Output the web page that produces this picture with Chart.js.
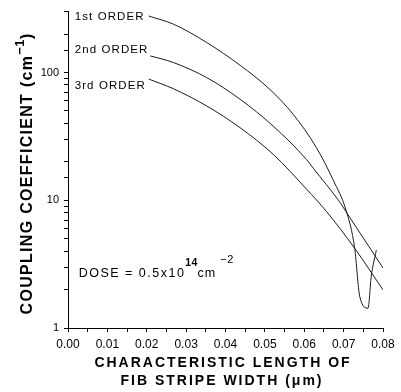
<!DOCTYPE html>
<html>
<head>
<meta charset="utf-8">
<script src="https://cdn.jsdelivr.net/npm/chart.js@4/dist/chart.umd.min.js"></script>
<style>
  html, body { margin: 0; padding: 0; background: #fff; }
  canvas { display: block; }
</style>
</head>
<body>
<canvas id="chart" width="401" height="392"></canvas>
<script>
// Coupling coefficient (cm^-1) versus characteristic length of the FIB stripe width (um)
const firstOrderX  = [0.0205, 0.0268, 0.0352, 0.0437, 0.0513, 0.0572, 0.0631, 0.0673, 0.0707, 0.0728, 0.0741, 0.0762, 0.0770, 0.0783];
const firstOrderK  = [277, 239, 172, 114, 73.6, 47.0, 25.8, 14.5, 8.2, 4.22, 1.76, 1.43, 2.52, 4.07];

const secondOrderX = [0.0209, 0.0268, 0.0352, 0.0437, 0.0521, 0.0606, 0.0623, 0.0690, 0.0710, 0.0800];
const secondOrderK = [135, 119.7, 91.4, 61.8, 38.1, 20.8, 17.8, 9.7, 7.8, 2.95];

const thirdOrderX  = [0.0205, 0.0268, 0.0352, 0.0437, 0.0521, 0.0606, 0.0656, 0.0728, 0.0800];
const thirdOrderK  = [88.9, 74.6, 54.8, 37.0, 22.9, 12.2, 8.2, 4.21, 1.99];

const seriesNames  = ['1st ORDER', '2nd ORDER', '3rd ORDER'];
const xTickLabels  = ['0.00', '0.01', '0.02', '0.03', '0.04', '0.05', '0.06', '0.07', '0.08'];
const yTickLabels  = [1, 10, 100];

const toPoints = (xs, ks) => xs.map((x, i) => ({ x: x, y: ks[i] }));

const FONT = '"Liberation Sans", Arial, Helvetica, sans-serif';

// Draws a row of text runs (normal and raised) starting at x, centred vertically on y.
function drawRuns(ctx, x, y, runs, align) {
  let total = 0;
  runs.forEach(r => {
    ctx.font = r.font;
    ctx.letterSpacing = r.spacing || '0px';
    r.w = ctx.measureText(r.t).width + (r.gap || 0);
    total += r.w;
  });
  let cx = align === 'center' ? x - total / 2 : x;
  runs.forEach(r => {
    ctx.font = r.font;
    ctx.letterSpacing = r.spacing || '0px';
    ctx.fillText(r.t, cx + (r.gap || 0), y - (r.rise || 0));
    cx += r.w;
  });
  ctx.letterSpacing = '0px';
}

const annotations = {
  id: 'annotations',
  afterDraw(chart) {
    const ctx = chart.ctx;
    const xs = chart.scales.x, ys = chart.scales.y;
    ctx.save();
    ctx.fillStyle = '#000';
    ctx.textBaseline = 'middle';
    ctx.textAlign = 'left';

    // series names at the left end of each curve
    const nameK = [274, 151, 78];
    seriesNames.forEach((name, i) => {
      drawRuns(ctx, xs.getPixelForValue(0.0017), ys.getPixelForValue(nameK[i]),
        [{ t: name, font: '11.5px ' + FONT, spacing: '1.1px' }]);
    });

    // implant dose
    drawRuns(ctx, xs.getPixelForValue(0.0027), ys.getPixelForValue(2.67), [
      { t: 'DOSE = 0.5x10', font: '12.5px ' + FONT, spacing: '1.5px' },
      { t: '14', font: 'bold 10.5px ' + FONT, spacing: '0.3px', rise: 10 },
      { t: 'cm', font: '12.5px ' + FONT, spacing: '1px' },
      { t: '\u22122', font: '11px ' + FONT, spacing: '0.5px', rise: 14, gap: 4 }
    ]);

    // x axis title (two lines)
    drawRuns(ctx, 223, 363, [{ t: 'CHARACTERISTIC LENGTH OF', font: 'bold 14px ' + FONT, spacing: '2px' }], 'center');
    drawRuns(ctx, 222, 381, [{ t: 'FIB STRIPE WIDTH (\u03bcm)', font: 'bold 14px ' + FONT, spacing: '2px' }], 'center');

    // y axis title, rotated
    ctx.translate(28, 174);
    ctx.rotate(-Math.PI / 2);
    drawRuns(ctx, 0, 0, [
      { t: 'COUPLING COEFFICIENT (cm', font: 'bold 16px ' + FONT, spacing: '1.3px' },
      { t: '\u22121', font: 'bold 13px ' + FONT, spacing: '0.5px', rise: 8 },
      { t: ')', font: 'bold 16px ' + FONT }
    ], 'center');
    ctx.restore();
  }
};

const lineStyle = {
  borderColor: '#1c1c1c',
  borderWidth: 1,
  pointRadius: 0,
  cubicInterpolationMode: 'monotone',
  fill: false
};

new Chart(document.getElementById('chart'), {
  type: 'line',
  data: {
    datasets: [
      Object.assign({ label: seriesNames[0], data: toPoints(firstOrderX, firstOrderK) }, lineStyle),
      Object.assign({ label: seriesNames[1], data: toPoints(secondOrderX, secondOrderK) }, lineStyle),
      Object.assign({ label: seriesNames[2], data: toPoints(thirdOrderX, thirdOrderK) }, lineStyle)
    ]
  },
  options: {
    responsive: false,
    animation: false,
    devicePixelRatio: 1,
    layout: { padding: { left: 0, right: 18, top: 11, bottom: 0 } },
    plugins: { legend: { display: false }, tooltip: { enabled: false } },
    scales: {
      x: {
        type: 'linear',
        min: 0,
        max: 0.08,
        afterFit(scale) { scale.height = 64; },
        border: { display: true, color: '#000', width: 1 },
        grid: { drawOnChartArea: false, drawTicks: true, tickLength: 4, color: '#000', tickColor: '#000' },
        ticks: {
          stepSize: 0.005,
          autoSkip: false,
          maxRotation: 0,
          padding: 5,
          color: '#000',
          font: { family: FONT, size: 12 },
          callback: v => {
            const s = Number(v).toFixed(2);
            return (Math.abs(v * 100 - Math.round(v * 100)) < 1e-6 && xTickLabels.includes(s)) ? s : '';
          }
        }
      },
      y: {
        type: 'logarithmic',
        min: 1,
        max: 300,
        afterFit(scale) { scale.width = 68; },
        border: { display: true, color: '#000', width: 1 },
        grid: { drawOnChartArea: false, drawTicks: true, tickLength: 4, color: '#000', tickColor: '#000' },
        ticks: {
          autoSkip: false,
          padding: 5,
          color: '#000',
          font: { family: FONT, size: 11 },
          callback: v => yTickLabels.includes(Number(v)) ? String(v) : ''
        }
      }
    }
  },
  plugins: [annotations]
});
</script>
</body>
</html>
